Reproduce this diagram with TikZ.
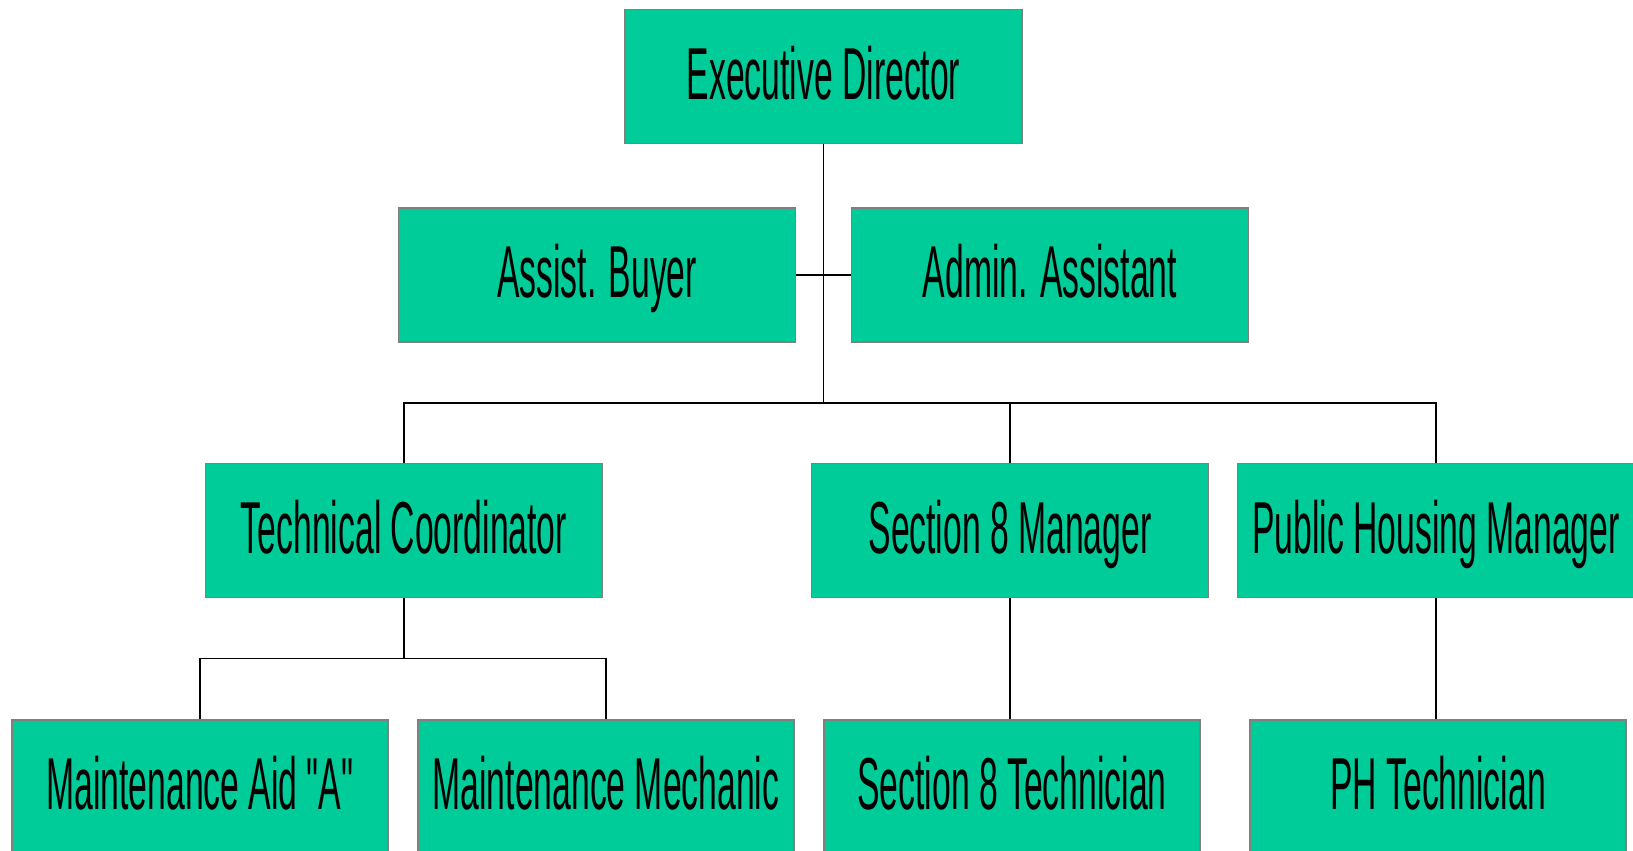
\documentclass[tikz,border=0pt]{standalone}
\usepackage{fontspec}
\newfontfamily\orgfont[FakeStretch=0.458]{Liberation Sans}
\definecolor{postgreen}{HTML}{00CC99}
\begin{document}
\begin{tikzpicture}[x=1pt, y=-1pt,
    post/.style={draw=gray, line width=1.8pt, fill=postgreen, minimum width=397pt,
        minimum height=134pt, inner sep=0pt, text height=52.7pt, text depth=7pt,
        font=\orgfont\fontsize{73.6}{78}\selectfont},
    staff/.style={post, minimum width=376pt},
    link/.style={line width=1.8pt}]
\useasboundingbox (0,0) rectangle (1633,851);
\clip (0,0) rectangle (1633,851);

% boxes, top to bottom
\node[post] (ed) at (823.5,76.5) {Executive Director};
\node[post] (ab) at (597,275) {Assist. Buyer};
\node[post] (aa) at (1050,275) {Admin. Assistant};
\node[post] (tc) at (404,530.5) {Technical Coordinator};
\node[post] (sm) at (1010,530.5) {Section 8 Manager};
\node[post] (pm) at (1436,530.5) {Public Housing Manager};
\node[staff] (ma) at (200,787) {Maintenance Aid "A"};
\node[staff] (mm) at (606,787) {Maintenance Mechanic};
\node[staff] (st) at (1012,787) {Section 8 Technician};
\node[staff] (pt) at (1438,787) {PH Technician};

% reporting lines
\coordinate (bus) at (823.5,403);
\coordinate (tcbus) at (404,658.5);
\draw[link] (ed.south) -- (bus);
\draw[link] (ab.east) -- (aa.west);
\draw[link] (tc.north) |- (bus) -| (pm.north);
\draw[link] (sm.north) -- (sm.north |- bus);
\draw[link] (tc.south) -- (tcbus);
\draw[link] (ma.north) |- (tcbus) -| (mm.north);
\draw[link] (sm.south) -- (sm.south |- st.north);
\draw[link] (pm.south) -- (pm.south |- pt.north);
\end{tikzpicture}
\end{document}
